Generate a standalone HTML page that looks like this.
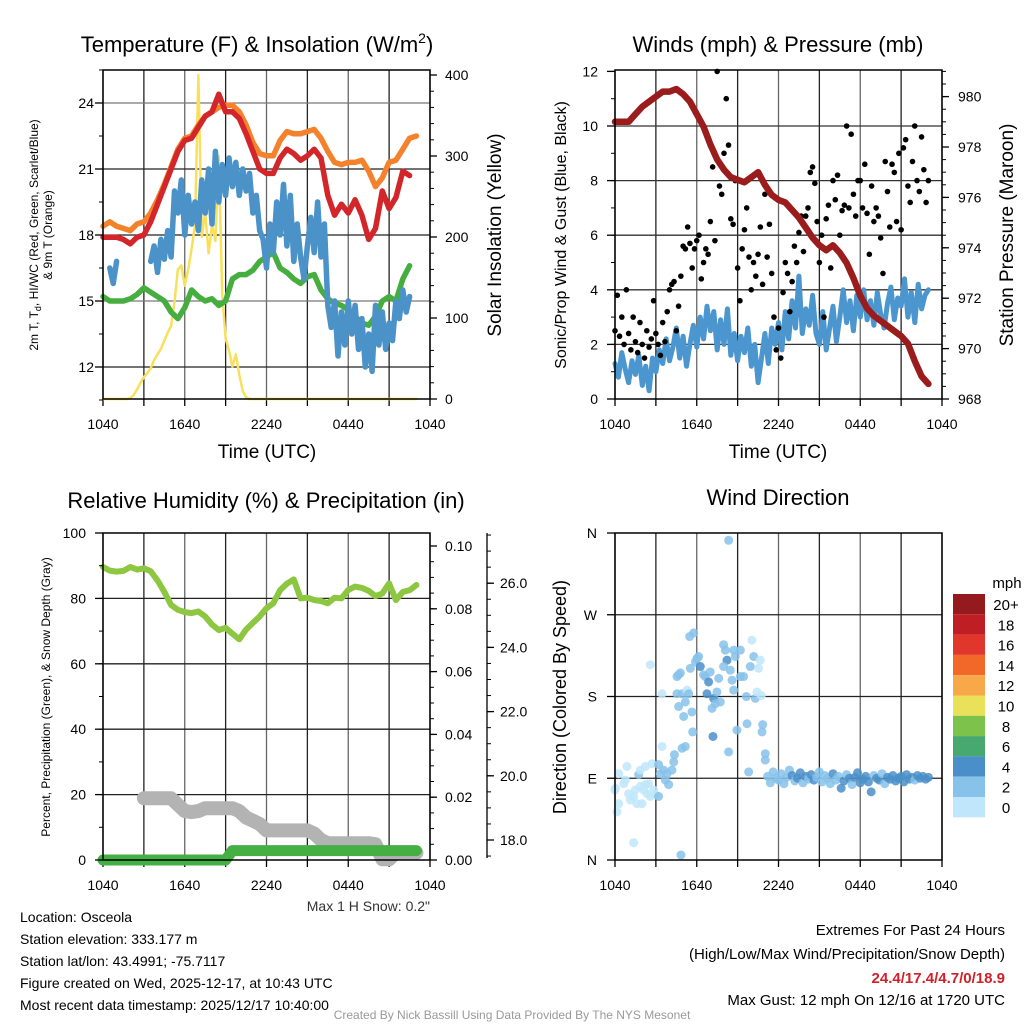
<!DOCTYPE html>
<html><head><meta charset="utf-8">
<style>
html,body{margin:0;padding:0;background:#fff;}
svg{display:block;font-family:"Liberation Sans",sans-serif;}
</style></head>
<body>
<svg id="fig" width="1024" height="1024" viewBox="0 0 1024 1024" xmlns="http://www.w3.org/2000/svg">
<rect x="0" y="0" width="1024" height="1024" fill="#fff"/>
<g id="layer"></g>
</svg>
<script>
// ===== Data =====
const timeTicks = ["1040","1640","2240","0440","1040"];
const tempRed = [17.9,17.9,17.9,17.8,17.6,17.9,18.0,18.6,19.4,20.2,21.0,21.8,22.3,22.4,22.9,23.4,23.6,24.4,23.6,23.6,23.3,22.6,21.8,21.0,20.8,20.8,21.5,21.9,21.7,21.4,21.6,21.9,21.5,19.8,18.9,19.4,19.0,19.6,18.9,17.8,18.3,20.0,19.2,19.7,20.9,20.7];
const tempOrange = [18.4,18.6,18.4,18.3,18.2,18.5,18.6,19.0,19.6,20.3,21.1,21.9,22.4,22.5,23.0,23.4,23.6,23.8,23.9,23.9,23.6,23.0,22.2,21.7,21.6,21.6,22.3,22.7,22.6,22.6,22.7,22.8,22.4,21.8,21.3,21.2,21.3,21.3,21.4,20.9,20.2,20.6,21.3,21.4,21.9,22.4,22.5];
const dewGreen = [15.2,15.0,15.0,15.0,15.1,15.3,15.6,15.4,15.2,15.0,14.5,14.2,14.7,15.5,15.2,15.0,15.1,14.8,15.0,16.0,16.2,16.2,16.4,16.8,17.0,17.2,16.5,16.3,16.0,15.8,16.1,16.2,15.5,15.1,14.9,14.8,14.6,14.3,14.0,13.9,14.3,15.0,15.2,15.0,16.0,16.6];
const windChill = [null,null,16.5,15.8,16.8,null,null,null,null,null,null,null,null,null,16.8,17.5,16.3,17.8,16.9,18.2,17.0,20.0,19.0,20.5,18.0,19.8,18.5,19.5,18.2,20.5,19.0,21.0,18.5,21.8,19.5,21.2,19.8,21.5,20.2,21.3,19.8,21.0,20.0,20.8,19.0,19.8,18.2,17.8,16.5,18.5,17.2,19.5,18.0,20.3,17.5,19.8,16.8,18.5,17.0,16.0,17.5,18.8,17.2,19.5,17.0,18.5,14.8,13.8,15.0,12.5,14.5,13.0,15.0,13.5,14.8,12.8,14.2,12.0,13.5,11.8,14.8,13.0,14.5,12.8,14.0,13.2,15.0,14.2,15.5,14.5,15.2];
const insolation = [0,0,0,0,0,0,0,0,1,5,12,20,27,32,38,48,55,62,72,82,90,120,160,165,140,160,185,215,400,200,230,180,215,195,300,130,75,60,40,55,30,10,2,0,0,0,0,0,0,0,0,0,0,0,0,0,0,0,0,0,0,0,0,0,0,0,0,0,0,0,0,0,0,0,0,0,0,0,0,0,0,0,0,0,0,0,0,0,0,0,0,0,0];
const windSpeed = [1.3,0.8,1.7,1.1,0.6,1.4,0.9,1.6,0.5,1.2,0.3,1.5,1.0,1.8,1.3,2.2,1.4,1.9,2.6,1.5,2.3,1.2,2.0,2.7,1.9,3.0,2.2,3.4,2.5,3.2,1.8,2.9,2.0,3.3,1.6,2.4,1.4,2.3,1.7,2.6,1.2,2.0,0.6,1.5,2.4,1.3,2.6,2.0,2.8,1.8,3.2,2.2,3.6,2.6,4.5,2.4,3.3,2.7,3.8,2.4,2.0,3.2,1.8,2.6,3.4,2.1,3.0,4.0,2.8,3.6,2.5,3.8,3.0,4.0,2.9,3.6,2.7,3.9,3.1,2.6,3.5,4.1,2.9,3.7,3.4,4.4,3.0,3.9,2.8,4.2,3.3,3.8,4.0];
const gusts = [2.5,3.8,2.3,3.0,2.0,4.0, 2.4,1.8,3.0,2.1,1.7,2.8, 2.0,1.5,2.5,1.9,2.2,3.6, 2.4,2.0,1.6,2.8,2.1,3.2, 4.0,4.2,4.3,2.5,3.4,4.5, 5.6,5.5,6.3,5.7,4.8,5.5, 5.8,6.0,4.4,5.0,5.5,5.3, 6.5,8.5,5.8,12.0,7.8,7.5, 9.0,11.0,9.3,6.6,6.4,8.0, 4.8,3.6,5.5,6.2,7.0,5.2, 4.0,5.0,4.5,5.3,6.3,4.2, 7.5,5.2,6.4,4.6,3.0,1.8, 2.6,1.5,3.9,5.0,4.6,3.2, 4.3,5.6,5.0,6.1,6.7,5.4, 6.7,7.0,8.3,8.5,7.9,6.5, 5.0,6.0,3.0,6.6,7.1,4.8, 8.0,7.3,8.2,6.0,6.9,7.1, 10.0,7.0,9.7,7.5,6.7,8.0, 8.0,7.0,8.6,6.8,5.3,7.8, 6.5,7.0,6.7,5.9,4.6,8.7, 7.6,6.3,8.6,8.3,6.5,9.0, 6.2,9.2,9.5,7.8,7.2,8.7, 10.0,8.0,7.6,9.6,8.4,7.2,8.0];
const pressure = [979.0,979.0,979.0,979.3,979.6,979.8,980.0,980.2,980.2,980.3,980.1,979.8,979.3,978.8,978.1,977.5,977.1,976.8,976.7,976.6,976.8,977.0,976.5,976.1,975.9,975.8,975.5,975.2,974.8,974.4,974.1,973.9,974.1,973.8,973.4,972.8,972.1,971.6,971.3,971.1,970.9,970.7,970.5,970.2,969.5,968.9,968.6];
const relHum = [89.6,88.5,88.2,88.4,89.6,88.8,89.2,88.3,85.5,82,78,76.5,75.8,75.5,76,74.5,72,70.3,71,69.2,67.5,70.5,72.5,74.5,77,78.5,82.5,84.5,85.8,80,80.2,79.5,79.2,78.5,80.2,80,82.6,83.6,83.2,82.3,80.7,81.5,84.6,79.5,82,82.5,84.1];
const precip = [0,0,0,0,0,0,0,0,0,0,0,0,0,0,0,0,0,0,0,0.003,0.003,0.003,0.003,0.003,0.003,0.003,0.003,0.003,0.003,0.003,0.003,0.003,0.003,0.003,0.003,0.003,0.003,0.003,0.003,0.003,0.003,0.003,0.003,0.003,0.003,0.003,0.003];
const snowDepth = [null,null,null,null,null,null,19.3,19.3,19.3,19.3,19.3,19.1,18.9,18.87,18.9,18.99,18.99,18.99,18.99,18.99,18.9,18.7,18.6,18.5,18.3,18.3,18.3,18.3,18.3,18.3,18.3,18.2,18.0,17.9,17.9,17.9,17.9,17.9,17.9,17.9,17.87,17.4,17.4,17.6,17.6,17.6,17.6];
const dirTimesEarly = [0.0,0.15,0.27,0.03,0.27,0.64,0.88,0.76,1.0,1.13,1.37,1.49,1.61,1.74,1.86,1.86,1.98,2.1,2.23,2.23,2.35,2.47,2.59,2.72,2.84,2.96,3.2,3.33,3.2,3.45,3.45,2.59,1.37,3.57,3.7,3.82,3.94,4.18,4.31,4.36,4.55,4.67,4.8,4.55,4.67,4.92,5.04,5.16,5.29,5.41,5.16,4.92,5.65,5.7,5.53,5.48,5.78,5.9,6.02,6.14,6.26,6.5,6.63,6.75,6.87,6.99,7.12,7.24,7.48,7.36,7.61,7.73,7.19,7.97,8.1,8.22,7.97,8.34,8.46,8.59,8.71,8.83,8.71,8.95,9.2,9.2,9.44,9.64,9.69,9.81,9.93,10.05,10.18,10.3,10.42,10.54,10.66,10.74,10.84,10.79,11.03,11.03,8.34,4.84];
const dirEarly = [77,53,62,79,95,84,103,88,73,66,70,77,62,94,81,99,62,77,83,103,73,84,70,106,77,72,70,95,105,125,183,215,19,99,88,95,83,99,108,116,202,204,206,183,169,183,158,174,187,183,125,123,163,141,211,246,250,218,222,224,213,204,202,183,196,207,167,178,185,172,200,174,136,237,231,220,213,119,209,198,187,224,231,143,231,202,202,180,150,97,213,242,224,178,185,211,220,181,149,141,117,110,352,5.5];
const dirLate = [92,85,97,90,88,95,84,91,99,93,87,90,96,85,92,89,94,88,91,97,86,93,90,84,95,88,92,79,87,94,90,83,91,96,85,89,92,86,75,93,90,88,95,84,91,89,93,87,90,92,86,94,89,91,88,93,90,92,89,91];
const speedBins = ["20+","18","16","14","12","10","8","6","4","2","0"];
const speedColors = ["#951a1d","#bf1e25","#e0362b","#f26829","#f8a848","#e9e15a","#7dc24b","#47a96f","#4a8fc9","#86c2ea","#bfe6fa"];

// ===== helpers =====
const NS="http://www.w3.org/2000/svg";
const layer=document.getElementById('layer');
function mk(tag,attrs,parent){const e=document.createElementNS(NS,tag);for(const k in attrs)e.setAttribute(k,attrs[k]);(parent||layer).appendChild(e);return e;}
function txt(s,x,y,size,anchor,extra,parent){const e=mk('text',Object.assign({x:x,y:y,'font-size':size,'text-anchor':anchor||'middle',fill:'#000'},extra||{}),parent);e.textContent=s;return e;}

function panel(name,x0,x1,y0,y1){
  const g=mk('g',{});
  
  
  for(let i=0;i<=8;i++){const x=x0+i*(x1-x0)/8;
    const l=mk('line',{x1:x,x2:x,y1:y0,y2:y1,stroke:i%2?'#222':'#666','stroke-width':1.3},g);
    
    
    mk('line',{x1:x,x2:x,y1:y1,y2:y1+7,stroke:'#000','stroke-width':1.3},g);
  }
  for(let i=0;i<timeTicks.length;i++){const x=x0+i*(x1-x0)/4;
    const t=txt(timeTicks[i],x,y1+30,14,'middle',{},g);
    
    
  }
  return g;
}
function hgrid(g,x0,x1,y,col){mk('line',{x1:x0,x2:x1,y1:y,y2:y,stroke:col||'#222','stroke-width':1.3},g);}
function frame(g,x0,x1,y0,y1){const r=mk('rect',{x:x0,y:y0,width:x1-x0,height:y1-y0,fill:'none',stroke:'#000','stroke-width':1.5},g);
  
  }
function line(g,vals,dt,xf,yf,color,w,name){
  let seg=[];const segs=[];
  vals.forEach((v,i)=>{if(v===null){if(seg.length)segs.push(seg);seg=[];}else seg.push([xf(i*dt),yf(v)]);});
  if(seg.length)segs.push(seg);
  segs.forEach(s=>{
    if(s.length===1)s.push([s[0][0]+0.5,s[0][1]]);
    const p=mk('polyline',{points:s.map(q=>q[0].toFixed(1)+','+q[1].toFixed(1)).join(' '),fill:'none',stroke:color,'stroke-width':w,'stroke-linejoin':'round','stroke-linecap':'round'},g);
    
    
  });
}
function leftTicks(g,x,vals,yf,labels,minor,lx){
  minor.forEach(v=>mk('line',{x1:x-4,x2:x,y1:yf(v),y2:yf(v),stroke:'#000','stroke-width':1}, g));
  vals.forEach((v,i)=>{mk('line',{x1:x-8,x2:x,y1:yf(v),y2:yf(v),stroke:'#000','stroke-width':1.3},g);
    const t=txt(labels[i],lx,yf(v)+5,14,'end',{},g);
    
    });
}
function rightTicks(g,x,vals,yf,labels,minor,lx){
  minor.forEach(v=>mk('line',{x1:x,x2:x+4,y1:yf(v),y2:yf(v),stroke:'#000','stroke-width':1}, g));
  vals.forEach((v,i)=>{mk('line',{x1:x,x2:x+7,y1:yf(v),y2:yf(v),stroke:'#000','stroke-width':1.3},g);
    const t=txt(labels[i],lx,yf(v)+5,14,'start',{},g);
    
    });
}
function range(a,b,s){const r=[];for(let v=a;v<=b+1e-9;v+=s)r.push(+v.toFixed(4));return r;}
function rotLabel(s,x,y,size,name){const t=txt(s,x,y,size,'middle',{transform:`rotate(-90 ${x} ${y})`});
  
  return t;}

// ===== Panel 1 =====
{
const X0=103,X1=430,Y0=70,Y1=399;
const xs=t=>X0+t*13.625, yT=v=>103+(24-v)*22, yS=v=>399-v*0.81;
const g=panel('temperature-panel',X0,X1,Y0,Y1);
[24,21,18,15,12].forEach((v,i)=>hgrid(g,X0,X1,yT(v),i%3==0?'#777':'#222'));
line(g,insolation,0.25,xs,yS,'#f8e05c',2.5,'insolation-line');
line(g,tempOrange,0.5,xs,yT,'#f4822c',5.5,'9m-temp-line');
line(g,dewGreen,0.5,xs,yT,'#46ad3f',5.5,'dewpoint-line');
line(g,tempRed,0.5,xs,yT,'#d3262a',5.5,'2m-temp-line');
line(g,windChill,0.25,xs,yT,'#4b92c8',5.5,'wind-chill-line');
frame(g,X0,X1,Y0,Y1);
leftTicks(g,X0,[24,21,18,15,12],yT,["24","21","18","15","12"],range(10.5,25.5,1.5),94);
rightTicks(g,X1,[0,100,200,300,400],yS,["0","100","200","300","400"],range(0,400,20),445);
const tt=txt('Temperature (F) & Insolation (W/m',257,52,22,'middle');


const sp=mk('tspan',{dy:-9,'font-size':14},tt);sp.textContent='2';
const sp2=mk('tspan',{dy:9},tt);sp2.textContent=')';
const xl=txt('Time (UTC)',267,458,19,'middle');


const yl=txt('',38,235,12,'middle',{transform:'rotate(-90 38 235)'});


const a=mk('tspan',{},yl);a.textContent='2m T, T';
const b=mk('tspan',{dy:3,'font-size':9},yl);b.textContent='d';
const c=mk('tspan',{dy:-3},yl);c.textContent=', HI/WC (Red, Green, Scarlet/Blue)';
const yl2=txt('& 9m T (Orange)',52,235,12,'middle',{transform:'rotate(-90 52 235)'});


rotLabel('Solar Insolation (Yellow)',501,235,19,'insolation-axis-title');
}
// ===== Panel 2 =====
{
const X0=615,X1=942,Y0=70,Y1=399;
const xs=t=>X0+t*13.625, yW=v=>399-v*27.3, yP=v=>399-(v-968)*25.2;
const g=panel('winds-panel',X0,X1,Y0,Y1);
[2,4,6,8,10].forEach(v=>hgrid(g,X0,X1,yW(v),'#333'));
line(g,windSpeed,0.25,xs,yW,'#4b96cf',5,'wind-speed-line');
gusts.forEach((v,i)=>{const c=mk('circle',{cx:xs(i/6),cy:yW(v),r:2.8,fill:'#000'},g);
  
  });
line(g,pressure,0.5,xs,yP,'#9b1c1c',6.5,'pressure-line');
frame(g,X0,X1,Y0,Y1);
leftTicks(g,X0,[0,2,4,6,8,10,12],yW,["0","2","4","6","8","10","12"],range(0,12,1),598);
rightTicks(g,X1,[968,970,972,974,976,978,980],yP,["968","970","972","974","976","978","980"],range(968,981,0.5),958);
const tt=txt('Winds (mph) & Pressure (mb)',778,52,22,'middle');


const xl=txt('Time (UTC)',778,458,19,'middle');


rotLabel('Sonic/Prop Wind & Gust (Blue, Black)',566,235,16,'wind-y-axis-title');
rotLabel('Station Pressure (Maroon)',1013,235,19,'pressure-axis-title');
}
// ===== Panel 3 =====
{
const X0=103,X1=430,Y0=533,Y1=860;
const xs=t=>X0+t*13.625, yR=v=>860-v*3.27, yPr=v=>860-v*3140, ySn=v=>840-(v-18)*32.1;
const g=panel('humidity-panel',X0,X1,Y0,Y1);
[20,40,60,80].forEach(v=>hgrid(g,X0,X1,yR(v),'#222'));
line(g,relHum,0.5,xs,yR,'#8dc640',6,'relative-humidity-line');
line(g,snowDepth,0.5,xs,ySn,'#b3b3b3',14,'snow-depth-line');
line(g,precip,0.5,xs,yPr,'#44b044',11,'precipitation-line');
frame(g,X0,X1,Y0,Y1);
leftTicks(g,X0,[0,20,40,60,80,100],yR,["0","20","40","60","80","100"],range(0,100,10),86);
rightTicks(g,X1,[0,0.02,0.04,0.06,0.08,0.10],yPr,["0.00","0.02","0.04","0.06","0.08","0.10"],range(0,0.10,0.005),445);
mk('line',{x1:487,x2:487,y1:533,y2:858,stroke:'#000','stroke-width':1.3},g);
rightTicks(g,487,[18,20,22,24,26],ySn,["18.0","20.0","22.0","24.0","26.0"],range(17.5,27.5,0.5),500);
const tt=txt('Relative Humidity (%) & Precipitation (in)',266,508,22,'middle');


rotLabel('Percent, Precipitation (Green), & Snow Depth (Gray)',50,697,12,'humidity-y-axis-title');
const ms=txt('Max 1 H Snow: 0.2"',430,911,14,'end',{fill:'#333'});


}
// ===== Panel 4 =====
{
const X0=615,X1=942,Y0=533,Y1=860;
const xs=t=>X0+t*13.625, yD=v=>860-v*0.9083;
const g=panel('wind-direction-panel',X0,X1,Y0,Y1);
[90,180,270].forEach(v=>hgrid(g,X0,X1,yD(v),'#222'));
function spdAt(t){const i=t/0.25;const a=Math.floor(i),b=Math.min(a+1,windSpeed.length-1);const f=i-a;return windSpeed[Math.min(a,windSpeed.length-1)]*(1-f)+windSpeed[b]*f;}
function colFor(s){const idx=Math.min(10,Math.floor(s/2));return speedColors[10-idx];}
function dot(t,d){const c=mk('circle',{cx:xs(t),cy:yD(d),r:4.5,fill:colFor(spdAt(t)*1.35),'fill-opacity':0.85},g);
  
  }
dirEarly.forEach((d,i)=>dot(dirTimesEarly[i],d));
dirLate.forEach((d,i)=>dot(11.2+i*0.2,d));
frame(g,X0,X1,Y0,Y1);
leftTicks(g,X0,[0,90,180,270,360],yD,["N","E","S","W","N"],[],597);
const tt=txt('Wind Direction',778,505,22,'middle');


rotLabel('Direction (Colored By Speed)',566,697,18,'direction-y-axis-title');
const cb=mk('g',{});


const mph=txt('mph',1007,588,15,'middle',{},cb);


speedBins.forEach((lab,i)=>{
  const r=mk('rect',{x:953,y:594+i*20.3,width:32,height:20.3,fill:speedColors[i]},cb);
  
  
  const t=txt(lab,1006,594+i*20.3+16,15,'middle',{},cb);
  
  
});
}
// ===== footer text =====
{
const info=["Location: Osceola","Station elevation: 333.177 m","Station lat/lon: 43.4991; -75.7117","Figure created on Wed, 2025-12-17, at 10:43 UTC","Most recent data timestamp: 2025/12/17 10:40:00"];
info.forEach((s,i)=>{const t=txt(s,20,922+i*22,14,'start');
  
  });
const r1=txt('Extremes For Past 24 Hours',1005,935,15,'end');


const r2=txt('(High/Low/Max Wind/Precipitation/Snow Depth)',1005,959,15,'end');


const r3=txt('24.4/17.4/4.7/0/18.9',1005,983,15,'end',{fill:'#d0202a','font-weight':'bold'});


const r4=txt('Max Gust: 12 mph On 12/16 at 1720 UTC',1005,1005,15,'end');


const f=txt('Created By Nick Bassill Using Data Provided By The NYS Mesonet',512,1019,12,'middle',{fill:'#999'});


}
</script>
</body></html>
